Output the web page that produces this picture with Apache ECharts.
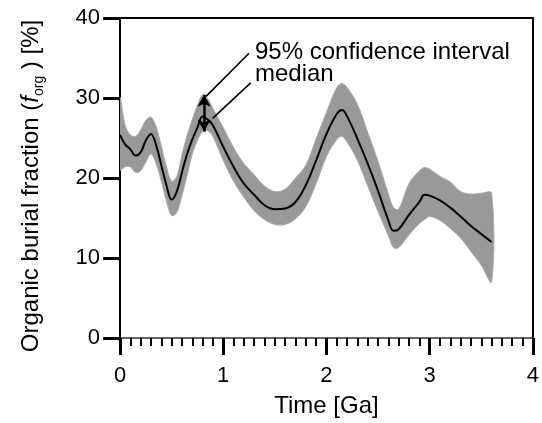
<!DOCTYPE html>
<html><head><meta charset="utf-8">
<script src="https://cdn.jsdelivr.net/npm/echarts@6/dist/echarts.min.js"></script>
<style>html,body{margin:0;padding:0;background:#fff}#c{width:542px;height:423px}</style>
</head><body><div id="c"></div>
<script>
// ---- data ----
const timeGa = [0,0.05,0.1,0.15,0.2,0.25,0.3,0.35,0.4,0.45,0.5,0.55,0.6,0.65,0.7,0.75,0.8,0.85,0.9,1.0,1.1,1.2,1.3,1.4,1.5,1.6,1.7,1.8,1.9,2.0,2.1,2.15,2.2,2.3,2.4,2.5,2.6,2.65,2.7,2.8,2.9,2.95,3.0,3.1,3.2,3.3,3.4,3.5,3.6];
const median = [25.4,24.2,23.6,22.8,23.2,24.7,25.5,24.1,21.6,19.1,17.3,18.3,20.7,23.0,24.8,26.3,27.7,27.3,26.6,23.9,21.4,19.3,17.9,16.6,16.1,16.2,17.0,19.1,22.2,25.5,28.0,28.5,27.7,24.9,21.8,18.4,14.7,13.4,13.6,15.4,17.0,17.9,17.8,17.2,16.3,15.2,14.0,13.0,12.0];
const upper = [30.0,26.6,25.4,25.2,26.0,27.2,27.6,26.4,24.0,21.4,19.6,20.2,22.9,25.3,27.3,29.1,30.4,29.9,28.7,26.3,23.8,21.8,20.4,19.0,18.3,18.6,20.0,21.6,24.9,28.2,31.3,31.8,31.3,29.2,25.7,22.1,18.0,16.3,16.1,19.3,20.9,21.3,21.1,20.2,19.5,18.3,18.0,18.1,18.1];
const lower = [21.0,21.4,21.4,20.7,20.9,22.0,23.0,21.8,19.6,17.1,15.3,15.7,17.8,20.3,23.0,24.7,25.8,25.9,25.2,22.2,19.6,17.6,15.9,14.8,14.2,14.2,14.9,16.4,19.3,22.7,24.8,25.2,24.5,22.2,19.0,15.8,12.8,11.3,11.3,12.9,14.3,14.8,15.2,14.7,13.7,12.5,10.8,9.1,7.0];
const xTickLabels = [0,1,2,3,4];
const yTickLabels = [0,10,20,30,40];
const annotationTexts = ['95% confidence interval','median'];
// annotation geometry in data units (Ga, %)
const ciArrow = [[0.815,30.4],[0.815,25.8]];
const leaderCI = [[0.834,30.2],[1.25,35.6]];
const leaderMedian = [[0.897,27.46],[1.266,31.9]];

const FONT = '"Liberation Sans", Arial, Helvetica, sans-serif';
const chart = echarts.init(document.getElementById('c'), null, {renderer:'canvas'});

const medianPts = timeGa.map((t,i)=>[t, median[i]]);

function renderBand(params, api){
  const top = timeGa.map((t,i)=>api.coord([t, upper[i]]));
  const bot = timeGa.map((t,i)=>api.coord([t, lower[i]])).reverse();
  const pts = top.concat(bot);
  return {
    type:'polygon',
    shape:{points:pts, smooth:0.35},
    style:{fill:'#999999', stroke:'#a9a9a9', lineWidth:1}
  };
}

const option = {
  animation:false,
  grid:{left:120, top:18, right:6, bottom:85, show:false},
  xAxis:[{
    type:'value', min:xTickLabels[0], max:xTickLabels[xTickLabels.length-1], interval:1,
    position:'bottom',
    name:'Time [Ga]', nameLocation:'middle', nameGap:56,
    nameTextStyle:{fontFamily:FONT, fontSize:24, color:'#000', lineHeight:24},
    axisLine:{show:true, onZero:false, lineStyle:{color:'#333', width:1.5}},
    axisTick:{show:true, inside:false, length:17, lineStyle:{color:'#000', width:3}},
    minorTick:{show:true, splitNumber:10, length:8, lineStyle:{color:'#000', width:2}},
    axisLabel:{margin:27, fontFamily:FONT, fontSize:22, color:'#000', lineHeight:22},
    splitLine:{show:false}, minorSplitLine:{show:false}
  },{
    type:'value', min:0, max:4, position:'top',
    axisLine:{show:true, onZero:false, lineStyle:{color:'#000', width:2}},
    axisTick:{show:false}, axisLabel:{show:false}, splitLine:{show:false}
  }],
  yAxis:[{
    type:'value', min:yTickLabels[0], max:yTickLabels[yTickLabels.length-1], interval:10,
    position:'left',
    name:'Organic burial fraction ({i|f}{sub|org} ) [%]', nameLocation:'middle', nameGap:74, nameRotate:90,
    nameTextStyle:{fontFamily:FONT, fontSize:24, color:'#000', lineHeight:30, padding:[0,16,0,0],
      rich:{
        i:{fontFamily:FONT, fontSize:24, fontStyle:'italic', color:'#000', lineHeight:30},
        sub:{fontFamily:FONT, fontSize:14, color:'#000', lineHeight:14, verticalAlign:'bottom'}
      }},
    axisLine:{show:true, onZero:false, lineStyle:{color:'#000', width:2}},
    axisTick:{show:true, inside:false, length:17, lineStyle:{color:'#000', width:3}},
    axisLabel:{margin:20, fontFamily:FONT, fontSize:22, color:'#000'},
    splitLine:{show:false}
  },{
    type:'value', min:0, max:40, position:'right',
    axisLine:{show:true, onZero:false, lineStyle:{color:'#000', width:2}},
    axisTick:{show:false}, axisLabel:{show:false}, splitLine:{show:false}
  }],
  series:[
    {type:'custom', coordinateSystem:'cartesian2d', xAxisIndex:0, yAxisIndex:0,
     data:[[timeGa[0], upper[0]]], renderItem:renderBand, z:1, silent:true, clip:true},
    {type:'line', data:medianPts, smooth:0.4, symbol:'none',
     lineStyle:{color:'#000', width:2}, z:3, silent:true,
     markLine:{
       silent:true, animation:false, precision:3,
       label:{show:false}, emphasis:{disabled:true},
       lineStyle:{color:'#000', type:'solid', width:1.6},
       data:[
         [{coord:ciArrow[0], symbol:'arrow', symbolSize:[10,12], lineStyle:{width:2.5}}, {coord:ciArrow[1], symbol:'arrow', symbolSize:[10,12]}],
         [{coord:leaderCI[0], symbol:'none'}, {coord:leaderCI[1], symbol:'none'}],
         [{coord:leaderMedian[0], symbol:'none'}, {coord:leaderMedian[1], symbol:'none'}]
       ]
     }}
  ],
  graphic:[
    {type:'text', left:255, top:40, z:10, style:{text:annotationTexts[0], font:'24px '+FONT, fill:'#000'}},
    {type:'text', left:255, top:62, z:10, style:{text:annotationTexts[1], font:'24px '+FONT, fill:'#000'}}
  ]
};
chart.setOption(option);
</script>
</body></html>
